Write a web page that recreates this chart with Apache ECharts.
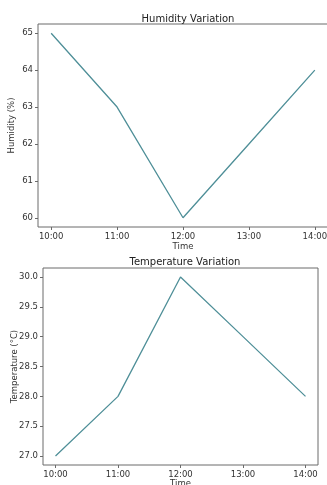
<!DOCTYPE html>
<html>
<head>
<meta charset="utf-8">
<script src="https://cdn.jsdelivr.net/npm/echarts@6/dist/echarts.min.js"></script>
<style>
html,body{margin:0;padding:0;background:#fff;}
#c{width:327px;height:485px;}
</style>
</head>
<body>
<div id="c"></div>
<script>
const times = ['10:00','11:00','12:00','13:00','14:00'];
const humidity = [65, 63, 60, 62, 64];
const temperature = [27, 28, 30, 29, 28];
const humTicks = [60, 61, 62, 63, 64, 65];
const tempTicks = [27.0, 27.5, 28.0, 28.5, 29.0, 29.5, 30.0];
const xIdx = [0, 1, 2, 3, 4];

const FONT = 'DejaVu Sans';
const lineColor = '#4f8f98';
const frame = '#6a6a6a';
const txt = '#333';

const chart = echarts.init(document.getElementById('c'), null, {renderer: 'canvas'});

function xAxis(gi, gap) {
  return {
    type: 'value', gridIndex: gi, min: -0.2, max: 4.2,
    name: 'Time', nameLocation: 'middle', nameGap: gap, nameMoveOverlap: false,
    nameTextStyle: {fontFamily: FONT, fontSize: 8.5, color: txt},
    splitLine: {show: false},
    axisLine: {show: false, onZero: false},
    axisTick: {show: true, length: 3, lineStyle: {color: frame}, customValues: xIdx},
    axisLabel: {fontFamily: FONT, fontSize: 8.5, color: txt, margin: 5, customValues: xIdx,
      formatter: v => times[Math.round(v)]}
  };
}
function yAxis(gi, min, max, ticks, name, gap, dec) {
  return {
    type: 'value', gridIndex: gi, min: min, max: max,
    name: name, nameLocation: 'middle', nameGap: gap, nameRotate: 90, nameMoveOverlap: false,
    nameTextStyle: {fontFamily: FONT, fontSize: 8.5, color: txt},
    splitLine: {show: false},
    axisLine: {show: false, onZero: false},
    axisTick: {show: true, length: 3, lineStyle: {color: frame}, customValues: ticks},
    axisLabel: {fontFamily: FONT, fontSize: 8.5, color: txt, margin: 5, customValues: ticks,
      formatter: v => v.toFixed(dec)}
  };
}

chart.setOption({
  animation: false,
  title: [
    {text: 'Humidity Variation', left: 183, top: 9, textAlign: 'center',
     textStyle: {fontFamily: FONT, fontSize: 10, fontWeight: 'normal', color: '#222'}},
    {text: 'Temperature Variation', left: 180, top: 252, textAlign: 'center',
     textStyle: {fontFamily: FONT, fontSize: 10, fontWeight: 'normal', color: '#222'}}
  ],
  grid: [
    {left: 38, top: 24, width: 290, height: 203, show: true, borderColor: frame, borderWidth: 1,
     backgroundColor: 'transparent', outerBoundsMode: 'none', containLabel: false},
    {left: 43, top: 268, width: 275, height: 197, show: true, borderColor: frame, borderWidth: 1,
     backgroundColor: 'transparent', outerBoundsMode: 'none', containLabel: false}
  ],
  xAxis: [xAxis(0, 15), xAxis(1, 14)],
  yAxis: [
    yAxis(0, 59.75, 65.25, humTicks, 'Humidity (%)', 22, 0),
    yAxis(1, 26.85, 30.15, tempTicks, 'Temperature (°C)', 24, 1)
  ],
  series: [
    {type: 'line', xAxisIndex: 0, yAxisIndex: 0, data: humidity.map((v, i) => [xIdx[i], v]),
     showSymbol: false, lineStyle: {color: lineColor, width: 1.3}},
    {type: 'line', xAxisIndex: 1, yAxisIndex: 1, data: temperature.map((v, i) => [xIdx[i], v]),
     showSymbol: false, lineStyle: {color: lineColor, width: 1.3}}
  ]
});
</script>
</body>
</html>
